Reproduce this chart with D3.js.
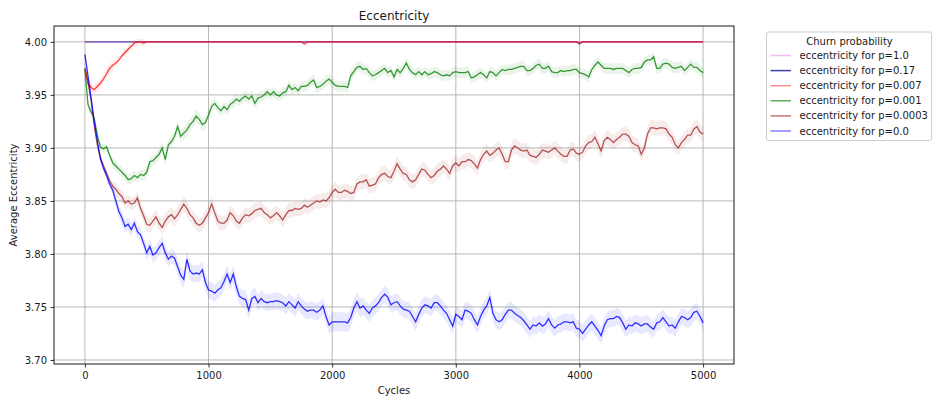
<!DOCTYPE html>
<html>
<head>
<meta charset="utf-8">
<script src="https://cdn.jsdelivr.net/npm/d3@7"></script>
<style>
  body { margin: 0; background: #fff; }
  svg text { font-family: 'DejaVu Sans', sans-serif; fill: #1a1a1a; }
</style>
</head>
<body>
<div id="chart"></div>
<script>
const cycles = d3.range(0, 5001, 25)

const eccP0 = [
  3.988, 3.968, 3.947, 3.925, 3.907, 3.890, 3.881, 3.874, 3.866, 3.860,
  3.850, 3.840, 3.834, 3.826, 3.828, 3.823, 3.829, 3.821, 3.818, 3.810,
  3.801, 3.807, 3.799, 3.801, 3.806, 3.810, 3.801, 3.795, 3.798, 3.796,
  3.788, 3.780, 3.776, 3.795, 3.784, 3.781, 3.782, 3.781, 3.785, 3.773,
  3.766, 3.765, 3.763, 3.766, 3.768, 3.774, 3.781, 3.773, 3.781, 3.769,
  3.760, 3.758, 3.757, 3.747, 3.758, 3.760, 3.754, 3.758, 3.755, 3.754,
  3.755, 3.755, 3.756, 3.755, 3.754, 3.751, 3.755, 3.752, 3.749, 3.755,
  3.751, 3.748, 3.746, 3.747, 3.747, 3.745, 3.747, 3.751, 3.741, 3.733,
  3.736, 3.736, 3.736, 3.736, 3.736, 3.735, 3.740, 3.749, 3.755, 3.749,
  3.751, 3.747, 3.744, 3.749, 3.751, 3.754, 3.759, 3.762, 3.759, 3.752,
  3.754, 3.755, 3.751, 3.748, 3.747, 3.746, 3.741, 3.736, 3.743, 3.749,
  3.752, 3.751, 3.749, 3.754, 3.754, 3.751, 3.747, 3.744, 3.738, 3.732,
  3.743, 3.741, 3.738, 3.747, 3.746, 3.744, 3.738, 3.733, 3.741, 3.747,
  3.751, 3.759, 3.744, 3.738, 3.736, 3.738, 3.743, 3.747, 3.747, 3.744,
  3.742, 3.740, 3.737, 3.733, 3.729, 3.733, 3.732, 3.735, 3.732, 3.734,
  3.739, 3.733, 3.730, 3.733, 3.734, 3.736, 3.736, 3.735, 3.736, 3.730,
  3.729, 3.725, 3.729, 3.733, 3.736, 3.732, 3.728, 3.723, 3.732, 3.738,
  3.739, 3.739, 3.741, 3.740, 3.735, 3.729, 3.733, 3.732, 3.735, 3.734,
  3.732, 3.734, 3.734, 3.731, 3.729, 3.735, 3.736, 3.740, 3.736, 3.732,
  3.733, 3.730, 3.736, 3.741, 3.740, 3.738, 3.740, 3.745, 3.746, 3.741,
  3.735
]

const eccP0003 = [
  3.975, 3.962, 3.945, 3.922, 3.903, 3.891, 3.883, 3.876, 3.869, 3.864,
  3.861, 3.857, 3.854, 3.848, 3.850, 3.847, 3.848, 3.853, 3.843, 3.836,
  3.828, 3.827, 3.831, 3.835, 3.829, 3.825, 3.831, 3.835, 3.837, 3.833,
  3.837, 3.842, 3.847, 3.843, 3.837, 3.834, 3.829, 3.827, 3.829, 3.834,
  3.839, 3.847, 3.839, 3.831, 3.829, 3.829, 3.832, 3.839, 3.836, 3.831,
  3.829, 3.834, 3.837, 3.836, 3.838, 3.841, 3.842, 3.843, 3.839, 3.837,
  3.834, 3.836, 3.839, 3.836, 3.832, 3.837, 3.841, 3.841, 3.843, 3.842,
  3.843, 3.846, 3.844, 3.846, 3.848, 3.850, 3.849, 3.851, 3.850, 3.853,
  3.858, 3.861, 3.858, 3.858, 3.860, 3.859, 3.857, 3.858, 3.866, 3.868,
  3.868, 3.870, 3.864, 3.865, 3.866, 3.872, 3.875, 3.876, 3.873, 3.872,
  3.878, 3.885, 3.880, 3.876, 3.875, 3.870, 3.868, 3.870, 3.875, 3.880,
  3.879, 3.875, 3.872, 3.874, 3.878, 3.880, 3.883, 3.880, 3.876, 3.883,
  3.886, 3.883, 3.887, 3.887, 3.889, 3.888, 3.885, 3.881, 3.889, 3.894,
  3.897, 3.893, 3.895, 3.898, 3.900, 3.894, 3.887, 3.887, 3.898, 3.902,
  3.900, 3.898, 3.897, 3.898, 3.893, 3.892, 3.891, 3.894, 3.898, 3.897,
  3.896, 3.898, 3.900, 3.897, 3.894, 3.892, 3.892, 3.898, 3.899, 3.895,
  3.894, 3.896, 3.902, 3.905, 3.906, 3.910, 3.904, 3.897, 3.907, 3.910,
  3.908, 3.905, 3.908, 3.910, 3.913, 3.913, 3.911, 3.905, 3.903, 3.902,
  3.894, 3.900, 3.913, 3.919, 3.919, 3.918, 3.919, 3.919, 3.918, 3.913,
  3.910, 3.903, 3.900, 3.905, 3.908, 3.912, 3.912, 3.918, 3.920, 3.915,
  3.913
]

const eccP001 = [
  3.974, 3.941, 3.934, 3.928, 3.912, 3.901, 3.899, 3.901, 3.893, 3.886,
  3.883, 3.880, 3.877, 3.874, 3.870, 3.871, 3.874, 3.872, 3.875, 3.874,
  3.877, 3.887, 3.888, 3.891, 3.894, 3.900, 3.889, 3.903, 3.906, 3.911,
  3.920, 3.911, 3.914, 3.917, 3.922, 3.925, 3.930, 3.927, 3.922, 3.924,
  3.931, 3.939, 3.942, 3.938, 3.935, 3.939, 3.936, 3.941, 3.943, 3.946,
  3.944, 3.947, 3.949, 3.946, 3.949, 3.942, 3.947, 3.948, 3.950, 3.953,
  3.950, 3.953, 3.950, 3.949, 3.952, 3.953, 3.959, 3.955, 3.957, 3.954,
  3.958, 3.958, 3.959, 3.962, 3.964, 3.957, 3.958, 3.960, 3.963, 3.965,
  3.962, 3.959, 3.958, 3.958, 3.958, 3.957, 3.968, 3.972, 3.976, 3.977,
  3.974, 3.975, 3.971, 3.968, 3.969, 3.971, 3.973, 3.975, 3.971, 3.973,
  3.967, 3.974, 3.971, 3.975, 3.980, 3.974, 3.971, 3.969, 3.972, 3.969,
  3.972, 3.969, 3.970, 3.972, 3.971, 3.969, 3.968, 3.969, 3.968, 3.971,
  3.972, 3.971, 3.971, 3.971, 3.972, 3.966, 3.967, 3.969, 3.971, 3.969,
  3.966, 3.972, 3.971, 3.968, 3.971, 3.974, 3.973, 3.974, 3.974, 3.975,
  3.976, 3.977, 3.977, 3.973, 3.973, 3.975, 3.978, 3.979, 3.975, 3.975,
  3.977, 3.972, 3.971, 3.971, 3.973, 3.972, 3.973, 3.973, 3.974, 3.974,
  3.971, 3.970, 3.969, 3.967, 3.974, 3.978, 3.981, 3.978, 3.975, 3.975,
  3.975, 3.974, 3.975, 3.975, 3.975, 3.973, 3.971, 3.974, 3.975, 3.975,
  3.976, 3.981, 3.983, 3.983, 3.986, 3.975, 3.975, 3.979, 3.980, 3.979,
  3.976, 3.975, 3.976, 3.977, 3.973, 3.976, 3.979, 3.976, 3.976, 3.973,
  3.971
]

// p=0.007 converges to 4 early, only its turning points are listed
const cyclesP007 = [0, 25, 50, 75, 100, 125, 150, 175, 200, 225, 250, 275, 300, 325, 350,
  375, 400, 425, 450, 475, 500, 525, 1750, 1775, 1800, 3975, 4000, 4025, 5000]
const eccP007 = [3.975, 3.961, 3.957, 3.955, 3.958, 3.961, 3.965, 3.970, 3.975, 3.978,
  3.980, 3.983, 3.987, 3.990, 3.993, 3.996, 3.999, 4.000, 4.000, 3.999, 4.000, 4.000,
  4.000, 3.998, 4.000, 4.000, 3.999, 4.000, 4.000]

const cyclesP017 = [0, 3975, 4000, 4025, 5000]
const eccP017 = [4.000, 4.000, 3.998, 4.000, 4.000]

const cyclesP1 = [0, 5000]
const eccP1 = [4.000, 4.000]

// half-width of the raw (unsmoothed) scatter, every 250 cycles
const spreadP0 = [0.004, 0.006, 0.007, 0.008, 0.008, 0.008, 0.008, 0.008, 0.009, 0.008, 0.008,
  0.008, 0.008, 0.008, 0.008, 0.008, 0.008, 0.008, 0.008, 0.008, 0.008]
const spreadP0003 = [0.004, 0.006, 0.007, 0.007, 0.007, 0.007, 0.007, 0.007, 0.007, 0.007, 0.007,
  0.007, 0.007, 0.007, 0.007, 0.007, 0.007, 0.007, 0.007, 0.007, 0.007]
const spreadP001 = [0.004, 0.005, 0.005, 0.006, 0.005, 0.005, 0.005, 0.005, 0.005, 0.005, 0.005,
  0.005, 0.005, 0.005, 0.005, 0.005, 0.005, 0.005, 0.005, 0.005, 0.005]
const spreadP007 = [0.004, 0.003, 0, 0, 0, 0, 0, 0, 0, 0, 0, 0, 0, 0, 0, 0, 0, 0, 0, 0, 0]

const xTicks = [0, 1000, 2000, 3000, 4000, 5000]
const yTicks = [3.70, 3.75, 3.80, 3.85, 3.90, 3.95, 4.00]

const labels = ['eccentricity for p=1.0', 'eccentricity for p=0.17', 'eccentricity for p=0.007',
  'eccentricity for p=0.001', 'eccentricity for p=0.0003', 'eccentricity for p=0.0']

const series = [
  {label: labels[0], xs: cyclesP1, ys: eccP1, spread: null, color: '#ee82ee', op: 0.6, legOp: 0.55},
  {label: labels[1], xs: cyclesP017, ys: eccP017, spread: null, color: '#00008b', op: 0.55, legOp: 0.75},
  {label: labels[2], xs: cyclesP007, ys: eccP007, spread: spreadP007, color: '#ff0000', op: 0.75, legOp: 0.45},
  {label: labels[3], xs: cycles, ys: eccP001, spread: spreadP001, color: '#138a13', op: 0.85, legOp: 0.7},
  {label: labels[4], xs: cycles, ys: eccP0003, spread: spreadP0003, color: '#a52a2a', op: 0.8, legOp: 0.65},
  {label: labels[5], xs: cycles, ys: eccP0, spread: spreadP0, color: '#0000ff', op: 0.8, legOp: 0.5}
]

const outerWidth = 933
const outerHeight = 400
const plot = {left: 54, right: 734, top: 26, bottom: 364}

const svg = d3.select('#chart')
  .append('svg')
  .attr('width', outerWidth)
  .attr('height', outerHeight)

const x = d3.scaleLinear().domain([-250, 5250]).range([plot.left, plot.right])
const y = d3.scaleLinear().domain([3.6962, 4.015]).range([plot.bottom, plot.top])

// grid
svg.append('g')
  .selectAll('line')
  .data(xTicks)
  .join('line')
  .attr('x1', (d) => x(d)).attr('x2', (d) => x(d))
  .attr('y1', plot.top).attr('y2', plot.bottom)
  .attr('stroke', '#b0b0b0').attr('stroke-width', 0.9)
svg.append('g')
  .selectAll('line')
  .data(yTicks)
  .join('line')
  .attr('x1', plot.left).attr('x2', plot.right)
  .attr('y1', (d) => y(d)).attr('y2', (d) => y(d))
  .attr('stroke', '#b0b0b0').attr('stroke-width', 0.9)

// data
const line = d3.line()
  .x((d) => x(d[0]))
  .y((d) => y(d[1]))
const band = d3.area()
  .x((d) => x(d[0]))
  .y0((d) => y(d[1] - d[2]))
  .y1((d) => y(d[1] + d[2]))

series.forEach((s) => {
  const pts = s.xs.map((c, i) => {
    const sp = s.spread ? s.spread[Math.min(20, Math.floor(c / 250))] : 0
    return [c, s.ys[i], sp]
  })
  if (s.spread) {
    svg.append('path')
      .datum(pts)
      .attr('d', band)
      .attr('fill', s.color)
      .attr('fill-opacity', 0.09)
  }
  svg.append('path')
    .datum(pts)
    .attr('d', line)
    .attr('fill', 'none')
    .attr('stroke', s.color)
    .attr('stroke-opacity', s.op)
    .attr('stroke-width', 1.3)
})

// axes
const xAxis = svg.append('g')
  .attr('transform', `translate(0,${plot.bottom})`)
  .call(d3.axisBottom(x).tickValues(xTicks).tickFormat(d3.format('d')).tickSize(3.5).tickPadding(4.5))
xAxis.select('.domain').remove()
const yAxis = svg.append('g')
  .attr('transform', `translate(${plot.left},0)`)
  .call(d3.axisLeft(y).tickValues(yTicks).tickFormat(d3.format('.2f')).tickSize(3.5).tickPadding(3.5))
yAxis.select('.domain').remove()
svg.selectAll('.tick text').attr('font-size', 10).attr('font-family', 'DejaVu Sans')
svg.selectAll('.tick line').attr('stroke', '#000').attr('stroke-width', 0.8)

svg.append('rect')
  .attr('x', plot.left)
  .attr('y', plot.top)
  .attr('width', plot.right - plot.left)
  .attr('height', plot.bottom - plot.top)
  .attr('fill', 'none')
  .attr('stroke', '#000')
  .attr('stroke-width', 0.9)

// titles
svg.append('text')
  .attr('x', (plot.left + plot.right) / 2)
  .attr('y', 20)
  .attr('text-anchor', 'middle')
  .attr('font-size', 12)
  .text('Eccentricity')
svg.append('text')
  .attr('x', (plot.left + plot.right) / 2)
  .attr('y', 394)
  .attr('text-anchor', 'middle')
  .attr('font-size', 10)
  .text('Cycles')
svg.append('text')
  .attr('transform', 'rotate(-90)')
  .attr('x', -(plot.top + plot.bottom) / 2)
  .attr('y', 17)
  .attr('text-anchor', 'middle')
  .attr('font-size', 10)
  .text('Average Eccentricity')

// legend
const legend = svg.append('g').attr('transform', 'translate(766.5,32)')
legend.append('rect')
  .attr('width', 165)
  .attr('height', 108.5)
  .attr('rx', 2)
  .attr('fill', '#fff')
  .attr('fill-opacity', 0.8)
  .attr('stroke', '#cccccc')
legend.append('text')
  .attr('x', 83)
  .attr('y', 12.5)
  .attr('text-anchor', 'middle')
  .attr('font-size', 10)
  .text('Churn probability')
const rows = legend.selectAll('.row')
  .data(series)
  .join('g')
  .attr('transform', (d, i) => `translate(0,${23.5 + i * 15.1})`)
rows.append('line')
  .attr('x1', 4).attr('x2', 24.5)
  .attr('stroke', (d) => d.color)
  .attr('stroke-opacity', (d) => d.legOp)
  .attr('stroke-width', 1.5)
rows.append('text')
  .attr('x', 33)
  .attr('dy', '0.35em')
  .attr('font-size', 10)
  .text((d) => d.label)
</script>
</body>
</html>
